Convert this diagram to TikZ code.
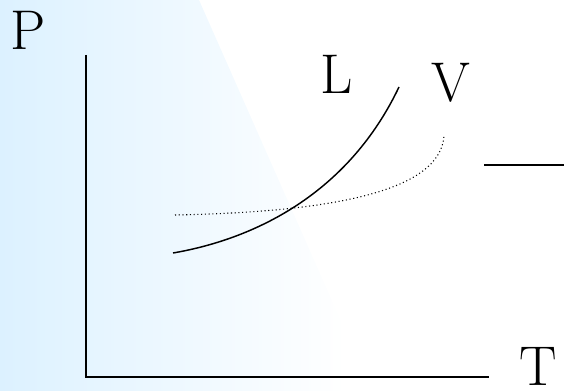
\documentclass[tikz,border=0pt]{standalone}
\usepackage{tikz}
\usetikzlibrary{calc}
\definecolor{bgblue}{RGB}{220,241,255}

\begin{document}
\begin{tikzpicture}[x=0.75pt,y=-0.75pt,
  lbl/.style={inner sep=0pt,font=\fontsize{42}{50}\selectfont},
  axis/.style={line width=1.1pt},
  curve/.style={line width=1.1pt},
  vapour/.style={line width=0.8pt,dotted}]
  \useasboundingbox (0,0) rectangle (564,391);
  % faded blue band on the left
  \begin{scope}
    \clip (0,0) -- (199,0) -- (372,391) -- (0,391) -- cycle;
    \shade[left color=bgblue,right color=white,draw=none] (0,0) rectangle (345,391);
  \end{scope}
  % axes
  \coordinate (top) at (86,55);
  \coordinate (origin) at (86,377);
  \coordinate (end) at (489,377);
  \draw[axis] (top) -- (origin) -- (end);
  \node[lbl] (p) at (28.5,30) {P};
  \node[lbl] (t) at (538,366) {T};
  % liquid curve
  \coordinate (l0) at (173,253);
  \coordinate (l1) at (399,87);
  \draw[curve] (l0) .. controls (260,238) and (350,190) .. (l1);
  \node[lbl] (l) at (337,74.5) {L};
  % vapour curve
  \coordinate (v0) at (175,215);
  \coordinate (v1) at (444,136);
  \draw[vapour] (v0) .. controls (330,212) and (440,192) .. (v1);
  \node[lbl] (v) at (450.5,82.5) {V};
  % short line on the right
  \coordinate (s0) at (484,165);
  \coordinate (s1) at (564,165);
  \draw[line width=1.5pt] (s0) -- (s1);
\end{tikzpicture}
\end{document}
